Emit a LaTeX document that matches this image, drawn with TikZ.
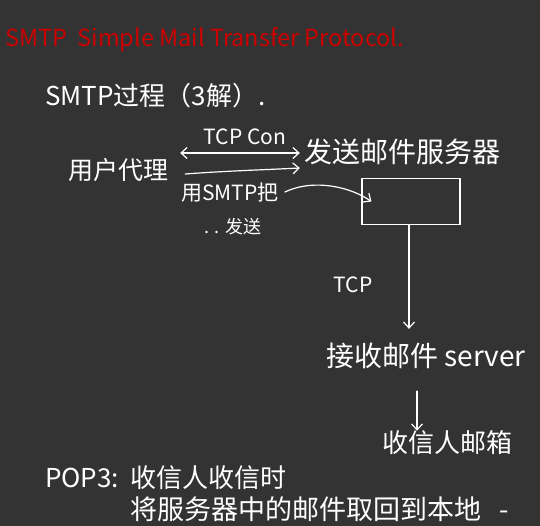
\documentclass[tikz,border=0pt]{standalone}
\usepackage{fontspec}
\setmainfont{Noto Sans CJK SC}
\usetikzlibrary{arrows.meta}
\definecolor{bg}{HTML}{333333}
\definecolor{redink}{HTML}{CC0000}
\begin{document}
\begin{tikzpicture}[x=1pt,y=-1pt,
  ink/.style={text=white,inner sep=0pt,font=\fontsize{25}{27}\selectfont},
  small/.style={ink,font=\fontsize{21}{23}\selectfont},
  line/.style={draw=white,line width=1.2pt,line cap=round},
  tip/.style={-{Straight Barb[length=6pt,width=11pt]}},
  boxstyle/.style={draw=white,line width=1.2pt,minimum width=98pt,minimum height=46pt,inner sep=0pt}]
\fill[bg] (0,0) rectangle (540,526);
\useasboundingbox (0,0) rectangle (540,526);
\node[ink,text=redink,font=\fontsize{23.5}{25}\selectfont,anchor=west] (title) at (5,40) {SMTP\ \ Simple Mail Transfer Protocol.};
\node[ink,font=\fontsize{26}{28}\selectfont,anchor=west] (proc) at (45,96) {SMTP过程（3解）.};
\node[ink] (ua) at (118,170) {用户代理};
\node[small] (tcpcon) at (245,137) {TCP Con};
\node[ink,font=\fontsize{28}{30}\selectfont] (ss) at (402,152) {发送邮件服务器};
\node[small] (use) at (230,193) {用SMTP把};
\node[small,font=\fontsize{18}{20}\selectfont] (send) at (233,227) {. . 发送};
\node[boxstyle] (box) at (411,201.5) {};
\node[small] (tcp) at (353,285) {TCP};
\node[ink,font=\fontsize{28}{30}\selectfont] (recv) at (426,356) {接收邮件 server};
\node[ink,font=\fontsize{26}{28}\selectfont] (inbox) at (447,443) {收信人邮箱};
\node[ink,font=\fontsize{26}{28}\selectfont,anchor=west] (pop) at (45,478) {POP3:\ \ 收信人收信时};
\node[ink,font=\fontsize{27}{29}\selectfont,anchor=west] (fetch) at (130,509) {将服务器中的邮件取回到本地\ \ \ -};
% connectors
\draw[line,{Straight Barb[length=6pt,width=11pt]}-{Straight Barb[length=6pt,width=11pt]}]
  ([xshift=12pt,yshift=17pt]ua.east) -- ([xshift=-4pt,yshift=-1pt]ss.west);
\draw[line,tip] ([xshift=17pt,yshift=-4pt]ua.east) .. controls +(40,-3) and +(-40,2) .. ([xshift=-4pt,yshift=-16pt]ss.west);
\draw[line,tip] ([xshift=6pt,yshift=1pt]use.east) .. controls +(30,-14) and +(-20,-14) .. ([xshift=10pt,yshift=0pt]box.west);
\draw[line,tip] ([xshift=-2pt]box.south) -- ([xshift=-17pt,yshift=14pt]recv.north);
\draw[line,tip] ([xshift=-9pt,yshift=-22pt]recv.south) -- ([xshift=-30pt,yshift=0pt]inbox.north);
\end{tikzpicture}
\end{document}
